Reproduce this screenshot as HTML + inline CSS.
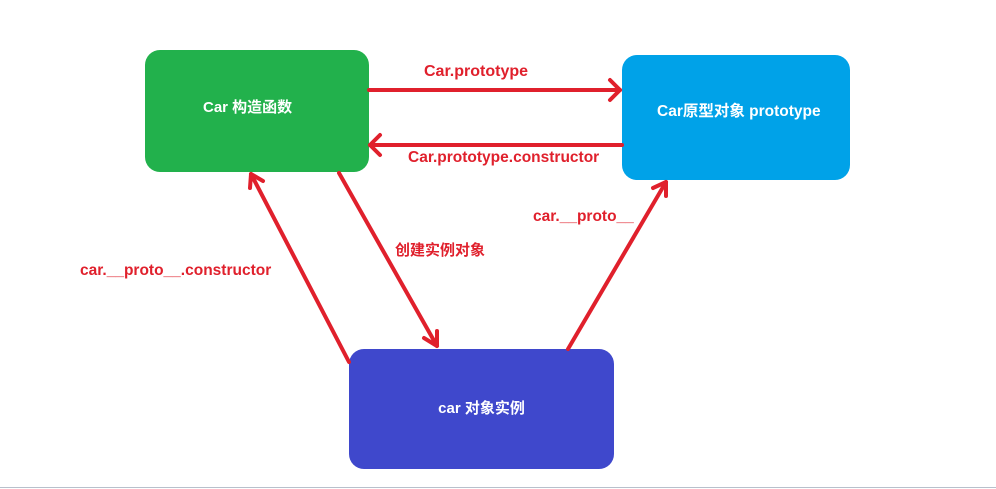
<!DOCTYPE html>
<html><head><meta charset="utf-8"><style>
html,body{margin:0;padding:0;background:#fff;width:996px;height:489px;overflow:hidden;position:relative;font-family:"Liberation Sans","Noto Sans CJK SC",sans-serif;font-weight:bold}
.b{position:absolute;border-radius:15px;color:#fff;font-size:15px;display:flex;align-items:center;justify-content:center}
.l{position:absolute;color:#e0202c;font-size:15.5px;white-space:nowrap}
</style></head><body>
<div class="b" style="left:145px;top:50px;width:224px;height:122px;background:#22b14c;justify-content:flex-start"><span style="margin-left:58px;margin-top:-10px">Car 构造函数</span></div>
<div class="b" style="left:622px;top:55px;width:228px;height:125px;background:#00a2e8;justify-content:flex-start"><span style="margin-top:-15px;margin-left:35px;font-size:15.5px">Car原型对象 prototype</span></div>
<div class="b" style="left:349px;top:349px;width:265px;height:120px;background:#3f48cc"><span style="margin-top:-3px">car 对象实例</span></div>
<svg width="996" height="489" style="position:absolute;left:0;top:0" fill="none" stroke="#e0202c" stroke-width="4" stroke-linecap="round" stroke-linejoin="round">
<line x1="369" y1="90" x2="620" y2="90"/><polyline points="610,80 620,90 610,100"/>
<line x1="622" y1="145" x2="370" y2="145"/><polyline points="380,135 370,145 380,155"/>
<line x1="349" y1="362" x2="251" y2="174"/><polyline points="250,188 251,174 263,181"/>
<line x1="339" y1="173" x2="437" y2="346"/><polyline points="424,338 437,346 437,331"/>
<line x1="568" y1="349" x2="666" y2="182"/><polyline points="653,188 666,182 666,196"/>
<line x1="0" y1="487.5" x2="996" y2="487.5" stroke="#b8c0cc" stroke-width="1"/>
</svg>
<div class="l" style="left:424px;top:63px;font-size:16px">Car.prototype</div>
<div class="l" style="left:408px;top:149px">Car.prototype.constructor</div>
<div class="l" style="left:533px;top:208px">car.__proto__</div>
<div class="l" style="left:395px;top:239px;font-size:15px">创建实例对象</div>
<div class="l" style="left:80px;top:262px;font-size:15.5px">car.__proto__.constructor</div>
</body></html>
